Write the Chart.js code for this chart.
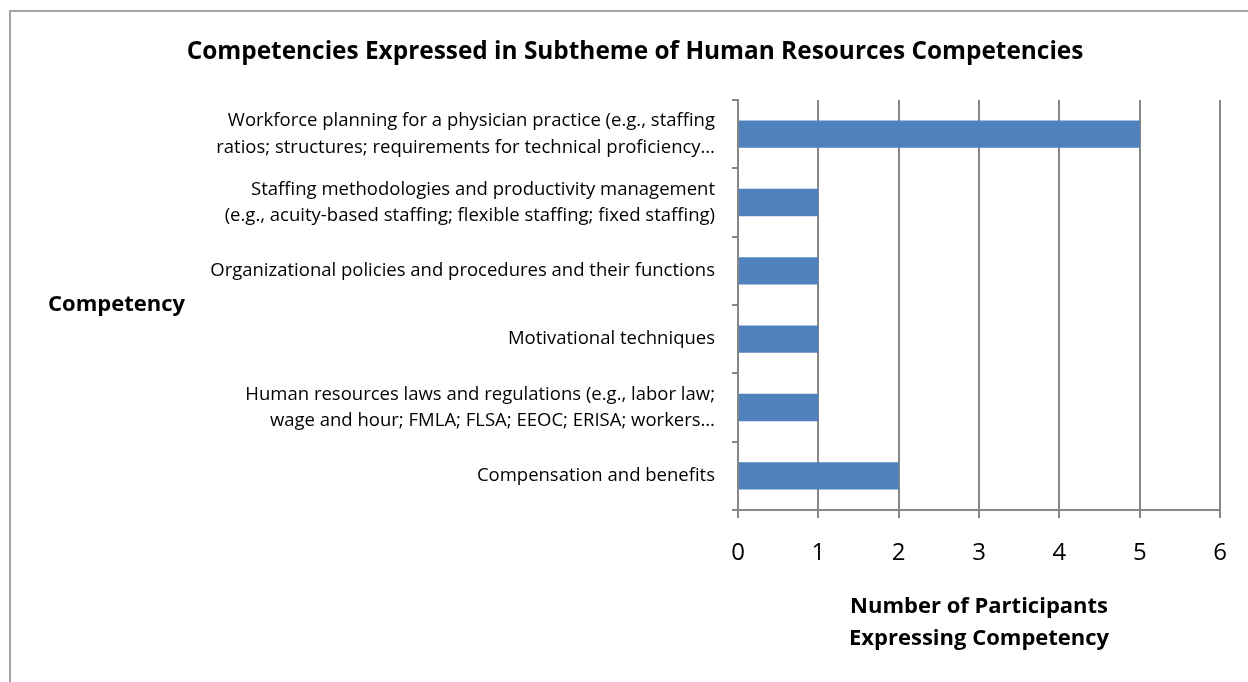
<!DOCTYPE html>
<html>
<head>
<meta charset="utf-8">
<script src="https://cdn.jsdelivr.net/npm/chart.js@4/dist/chart.umd.min.js"></script>
<style>
  html, body { margin: 0; padding: 0; background: #fff; overflow: hidden; }
  #frame {
    position: absolute; left: 9px; top: 10px;
    width: 1300px; height: 720px;
    border: 2px solid #a3a3a3; box-sizing: border-box;
  }
  #wrap { position: absolute; left: 0; top: 0; width: 1248px; height: 682px; }
</style>
</head>
<body>
<div id="frame"></div>
<div id="wrap"><canvas id="hrChart" width="1248" height="682"></canvas></div>
<script>
// ================= DATA =================
const competencies = [
  ["Workforce planning for a physician practice (e.g., staffing", "ratios; structures; requirements for technical proficiency…"],
  ["Staffing methodologies and productivity management", "(e.g., acuity-based staffing; flexible staffing; fixed staffing)"],
  "Organizational policies and procedures and their functions",
  "Motivational techniques",
  ["Human resources laws and regulations (e.g., labor law;", "wage and hour; FMLA; FLSA; EEOC; ERISA; workers…"],
  "Compensation and benefits"
];
const participants = [5, 1, 1, 1, 1, 2];
const xTicks = [0, 1, 2, 3, 4, 5, 6];

const chartTitle = "Competencies Expressed in Subtheme of Human Resources Competencies";
const yTitle = "Competency";
const xTitle = ["Number of Participants", "Expressing Competency"];

// ================= STYLE =================
const FONT = "'Open Sans', sans-serif";
const GRID = "#878787";
const BAR = "#4f81bd";

// chart title is centred on the framed box, y title sits horizontally left of the labels
const textPlugin = {
  id: "headings",
  afterDraw(chart) {
    const { ctx, chartArea } = chart;
    ctx.save();
    ctx.fillStyle = "#000";
    ctx.textBaseline = "middle";

    ctx.font = "bold 24.4px " + FONT;
    ctx.textAlign = "center";
    ctx.fillText(chartTitle, 635, 52);

    ctx.font = "bold 22px " + FONT;
    ctx.textAlign = "left";
    ctx.fillText(yTitle, 48, (chartArea.top + chartArea.bottom) / 2);
    ctx.restore();
  }
};

// ================= CHART =================
const ctx = document.getElementById("hrChart").getContext("2d");

new Chart(ctx, {
  type: "bar",
  data: {
    labels: competencies,
    datasets: [{
      data: participants,
      backgroundColor: BAR,
      borderWidth: 0,
      barPercentage: 0.4,
      categoryPercentage: 1
    }]
  },
  options: {
    indexAxis: "y",
    responsive: false,
    animation: false,
    layout: { padding: { left: 0, right: 27, top: 100, bottom: 0 } },
    plugins: {
      legend: { display: false },
      tooltip: { enabled: false },
      title: { display: false }
    },
    scales: {
      x: {
        min: 0,
        max: 6,
        afterFit(scale) { scale.height = 172; },
        afterBuildTicks(scale) { scale.ticks = xTicks.map(v => ({ value: v })); },
        border: { display: true, color: GRID, width: 2 },
        grid: { color: GRID, lineWidth: 2, tickLength: 8 },
        ticks: {
          color: "#000",
          font: { family: FONT, size: 24 },
          padding: 21
        },
        title: {
          display: true,
          text: xTitle,
          color: "#000",
          font: { family: FONT, size: 22, weight: "bold", lineHeight: 1.45 },
          padding: { top: 0, bottom: 27 }
        }
      },
      y: {
        afterFit(scale) { scale.width = 738; },
        border: { display: true, color: GRID, width: 2 },
        grid: { drawOnChartArea: false, color: GRID, lineWidth: 2, tickLength: 6, offset: true },
        ticks: {
          color: "#000",
          font: { family: FONT, size: 18.5, lineHeight: 1.42 },
          padding: 17
        }
      }
    }
  },
  plugins: [textPlugin]
});
</script>
</body>
</html>
